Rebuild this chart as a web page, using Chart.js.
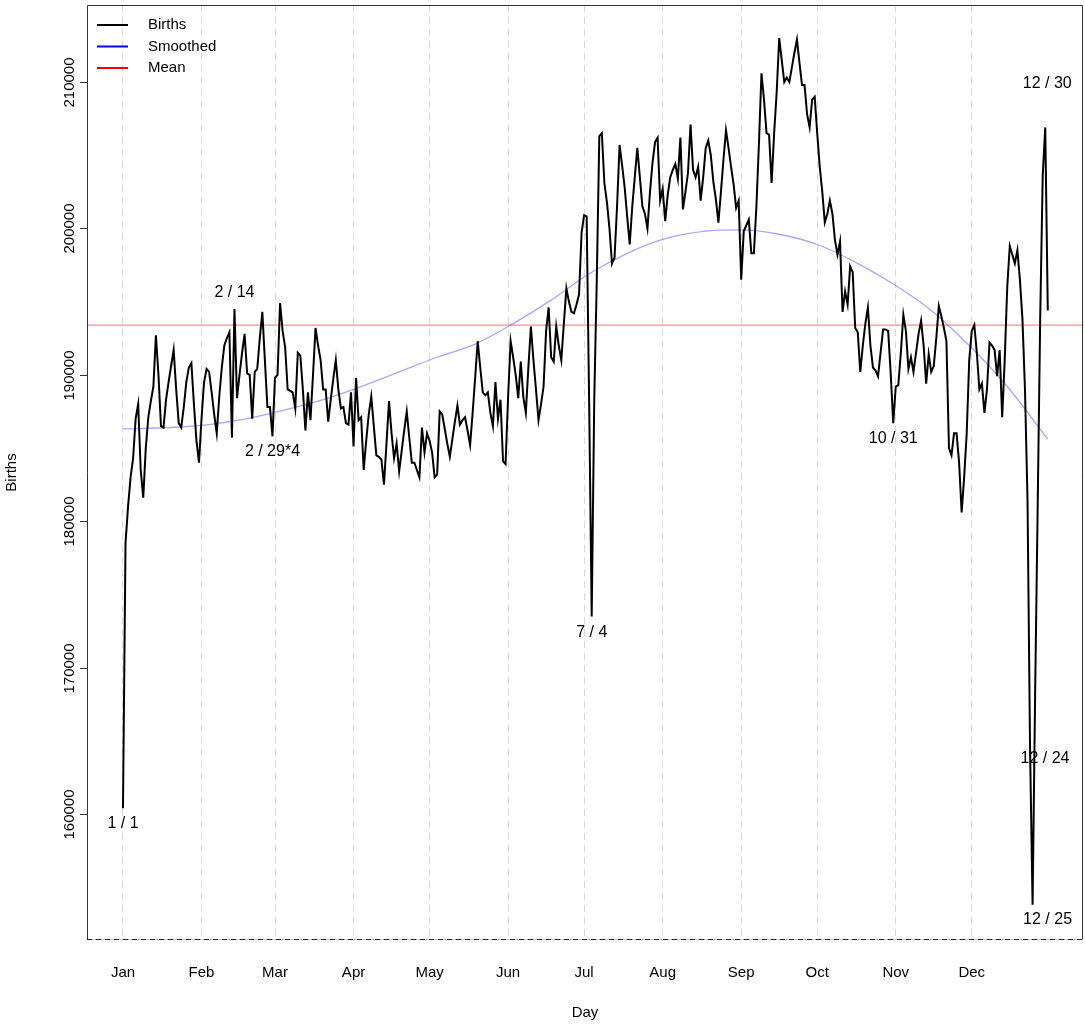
<!DOCTYPE html>
<html>
<head>
<meta charset="utf-8">
<title>Births by day of year</title>
<script src="https://cdn.jsdelivr.net/npm/chart.js@4.4.1/dist/chart.umd.min.js"></script>
<style>
  html, body { margin: 0; padding: 0; background: #fff; }
  #wrap { width: 1085px; height: 1024px; }
</style>
</head>
<body>
<div id="wrap"><canvas id="birthsChart" width="1085" height="1024"></canvas></div>
<script>
// daily births, day 1 = Jan 1 ... day 366 = Dec 31 (leap-year calendar)
const BIRTHS = [
  160400, 178500, 181000, 183000, 184300, 187000, 188000, 183500, 181600, 185000,
  187100, 188200, 189200, 192700, 190000, 186500, 186400, 188300, 189500, 190600,
  191700, 189000, 186700, 186400, 187800, 189500, 190500, 190800, 188000, 185500,
  184000, 187000, 189500, 190400, 190200, 188800, 187300, 186000, 188500, 190500,
  192000, 192500, 192900, 185700, 194500, 188400, 190000, 191500, 192800, 190100,
  190000, 187000, 190200, 190400, 192500, 194300, 191000, 187800, 187800, 185800,
  189800, 190000, 194900, 193000, 191900, 189000, 188900, 188800, 187700, 191500,
  191300, 189000, 186200, 188800, 186900, 190000, 193200, 192000, 191000, 189000,
  189000, 186800, 188300, 189700, 191000, 189000, 187700, 187800, 186700, 186600,
  188800, 185100, 189800, 186900, 187100, 183500, 185500, 187300, 188500, 186500,
  184500, 184400, 184200, 182500, 185300, 188200, 186000, 184300, 185300, 183400,
  184800, 186200, 187500, 185700, 184000, 184000, 183500, 183000, 186400, 184700,
  186000, 185500, 184700, 183000, 183200, 187500, 187300, 186300, 185300, 184400,
  185600, 186800, 187900, 186600, 186900, 187100, 186200, 185200, 187400, 189800,
  192300, 190500, 188800, 188600, 188800, 187400, 186500, 189500, 187000, 188300,
  184100, 183900, 188500, 192300, 191200, 190000, 188400, 190900, 188500, 187400,
  190500, 193300, 191000, 189000, 186900, 188000, 189200, 193000, 194600, 191200,
  190900, 193300, 192000, 191000, 193500, 195900, 195000, 194300, 194200, 194800,
  195500, 199700, 200900, 200800, 188000, 173500, 188300, 196500, 206300, 206500,
  203100, 201800, 200000, 197600, 198000, 201500, 205700, 204300, 202800, 200800,
  198900, 201500, 203500, 205500, 203500, 201500, 201000, 200000, 202500, 204500,
  205900, 206200, 201900, 202700, 200500, 202300, 203500, 204000, 204400, 203400,
  206200, 201300, 202500, 203800, 207100, 204000, 203500, 204200, 201900, 203500,
  205500, 206000, 205000, 203200, 202000, 200400, 202500, 204700, 206700, 205500,
  204200, 203000, 201400, 201900, 196500, 199800, 200200, 200600, 198300, 198300,
  201500, 205800, 210600, 208800, 206500, 206400, 203100, 206500, 209300, 213000,
  211500, 210000, 210300, 210000, 211000, 212000, 212900, 211300, 209800, 209800,
  207800, 206900, 208800, 209000, 206500, 204200, 202500, 200400, 201000, 201900,
  201000, 199200, 198200, 199100, 194300, 195700, 194800, 197400, 197000, 193200,
  192900, 190200, 192000, 193500, 194600, 192000, 190500, 190300, 189900, 191500,
  193100, 193100, 193000, 190100, 186700, 189200, 189300, 191500, 194100, 193000,
  190400, 191200, 190200, 191500, 192800, 193700, 192000, 189400, 191400, 190200,
  190600, 192500, 194700, 194000, 193200, 192300, 185000, 184500, 186000, 186000,
  184000, 180600, 183000, 186000, 191000, 193000, 193400, 191500, 189000, 189400,
  187400, 189000, 192200, 192000, 191700, 189900, 191700, 187100, 191000, 196000,
  198800, 198200, 197600, 198500, 196500, 193800, 189000, 181500, 164500, 153800,
  168100, 180800, 193800, 203600, 206900, 194400
];
const DAYS = BIRTHS.map((_, i) => i + 1);

// smoothed trend, read at a few days along the curve
const SMOOTH_DAYS   = [1, 20, 35, 50, 65, 80, 95, 110, 125, 140, 155, 170, 185,
                       200, 215, 230, 245, 260, 275, 290, 305, 320, 335, 350, 366];
const SMOOTH_VALUES = [186300, 186400, 186600, 187000, 187600, 188300, 189200, 190200,
                       191200, 192100, 193500, 195100, 196900, 198300, 199300, 199800,
                       199900, 199600, 198900, 197700, 196200, 194400, 192000, 189200, 185600];

const MEAN_BIRTHS = 193400;

const MONTHS = ['Jan', 'Feb', 'Mar', 'Apr', 'May', 'Jun', 'Jul', 'Aug', 'Sep', 'Oct', 'Nov', 'Dec'];
const MONTH_START_DAYS = [1, 32, 61, 92, 122, 153, 183, 214, 245, 275, 306, 336];
const Y_TICKS = [160000, 170000, 180000, 190000, 200000, 210000];

// labelled days: text and day of year
const NOTE_TEXT = ['1 / 1', '2 / 14', '2 / 29*4', '7 / 4', '10 / 31', '12 / 24', '12 / 25', '12 / 30'];
const NOTE_DAYS = [1, 45, 60, 186, 305, 359, 360, 365];

// axis ranges
const X_MIN = -13.2, X_MAX = 379.9;
const Y_MIN = 151394, Y_MAX = 215260;

// pixel offsets for the note labels (style only)
const NOTE_OFFSETS = [[0, 15], [0, -16], [0, 15], [0, 16], [0, 15], [15, 10], [15, 15], [2, -44]];

const FONT = '"Liberation Sans", Arial, Helvetica, sans-serif';

const framePlugin = {
  id: 'frame',
  afterDraw(chart) {
    const { ctx, chartArea: a, scales: { x, y } } = chart;
    ctx.save();
    // box
    ctx.strokeStyle = '#333';
    ctx.lineWidth = 1;
    ctx.beginPath();
    ctx.moveTo(a.left + 0.5, a.bottom);
    ctx.lineTo(a.left + 0.5, a.top + 0.5);
    ctx.lineTo(a.right - 0.5, a.top + 0.5);
    ctx.lineTo(a.right - 0.5, a.bottom);
    ctx.stroke();
    ctx.strokeStyle = '#bbb';
    ctx.beginPath();
    ctx.moveTo(a.left, a.bottom - 0.5);
    ctx.lineTo(a.right, a.bottom - 0.5);
    ctx.stroke();
    ctx.strokeStyle = '#222';
    ctx.setLineDash([5, 4]);
    ctx.beginPath();
    ctx.moveTo(a.left, a.bottom - 0.5);
    ctx.lineTo(a.right, a.bottom - 0.5);
    ctx.stroke();
    ctx.setLineDash([]);

    // y ticks and rotated labels
    ctx.fillStyle = '#000';
    ctx.font = '15px ' + FONT;
    ctx.textAlign = 'center';
    ctx.textBaseline = 'middle';
    ctx.strokeStyle = '#333';
    Y_TICKS.forEach(v => {
      const py = Math.round(y.getPixelForValue(v)) + 0.5;
      ctx.beginPath();
      ctx.moveTo(a.left - 7, py);
      ctx.lineTo(a.left, py);
      ctx.stroke();
      ctx.save();
      ctx.translate(a.left - 17, py);
      ctx.rotate(-Math.PI / 2);
      ctx.fillText(String(v), 0, 0);
      ctx.restore();
    });

    // axis titles
    ctx.font = '15px ' + FONT;
    ctx.fillText('Day', (a.left + a.right) / 2, 1013);
    ctx.save();
    ctx.translate(12, (a.top + a.bottom) / 2);
    ctx.rotate(-Math.PI / 2);
    ctx.fillText('Births', 0, 0);
    ctx.restore();

    // notes on special days
    ctx.font = '16px ' + FONT;
    NOTE_TEXT.forEach((t, i) => {
      const d = NOTE_DAYS[i];
      const px = x.getPixelForValue(d) + NOTE_OFFSETS[i][0];
      const py = y.getPixelForValue(BIRTHS[d - 1]) + NOTE_OFFSETS[i][1];
      ctx.fillText(t, px, py);
    });

    // legend, top-left inside the box
    const items = chart.data.datasets.map(ds => [ds.label, ds.legendColor]);
    ctx.textAlign = 'left';
    ctx.font = '15px ' + FONT;
    items.forEach(([label, color], i) => {
      const ly = a.top + 20 + i * 21.5;
      ctx.strokeStyle = color;
      ctx.lineWidth = 2;
      ctx.beginPath();
      ctx.moveTo(a.left + 10, ly);
      ctx.lineTo(a.left + 41, ly);
      ctx.stroke();
      ctx.fillText(label, a.left + 61, ly);
    });
    ctx.restore();
  }
};

new Chart(document.getElementById('birthsChart').getContext('2d'), {
  type: 'line',
  data: {
    datasets: [
      {
        label: 'Births',
        legendColor: '#000',
        data: DAYS.map((d, i) => ({ x: d, y: BIRTHS[i] })),
        borderColor: '#000',
        borderWidth: 2,
        pointRadius: 0,
        tension: 0,
        order: 0
      },
      {
        label: 'Smoothed',
        legendColor: '#0000ff',
        data: SMOOTH_DAYS.map((d, i) => ({ x: d, y: SMOOTH_VALUES[i] })),
        borderColor: 'rgba(0, 0, 255, 0.35)',
        borderWidth: 1.3,
        pointRadius: 0,
        cubicInterpolationMode: 'monotone',
        order: 1
      },
      {
        label: 'Mean',
        legendColor: '#ff0000',
        data: [{ x: X_MIN, y: MEAN_BIRTHS }, { x: X_MAX, y: MEAN_BIRTHS }],
        borderColor: 'rgba(255, 0, 0, 0.45)',
        borderWidth: 1.3,
        pointRadius: 0,
        order: 2
      }
    ]
  },
  options: {
    responsive: false,
    animation: false,
    devicePixelRatio: 1,
    layout: { padding: { left: 87, right: 2, top: 5, bottom: 0 } },
    plugins: { legend: { display: false }, tooltip: { enabled: false } },
    scales: {
      x: {
        type: 'linear',
        min: X_MIN,
        max: X_MAX,
        afterBuildTicks: s => { s.ticks = MONTH_START_DAYS.map(v => ({ value: v })); },
        afterFit: s => { s.height = 84; },
        ticks: {
          autoSkip: false,
          maxRotation: 0,
          padding: 24,
          color: '#000',
          font: { family: FONT, size: 15 },
          callback: (v, i) => MONTHS[i]
        },
        grid: { color: '#d9d9d9', lineWidth: 1, drawTicks: false },
        border: { display: false, dash: [7, 5] }
      },
      y: {
        type: 'linear',
        display: false,
        min: Y_MIN,
        max: Y_MAX
      }
    }
  },
  plugins: [framePlugin]
});
</script>
</body>
</html>
